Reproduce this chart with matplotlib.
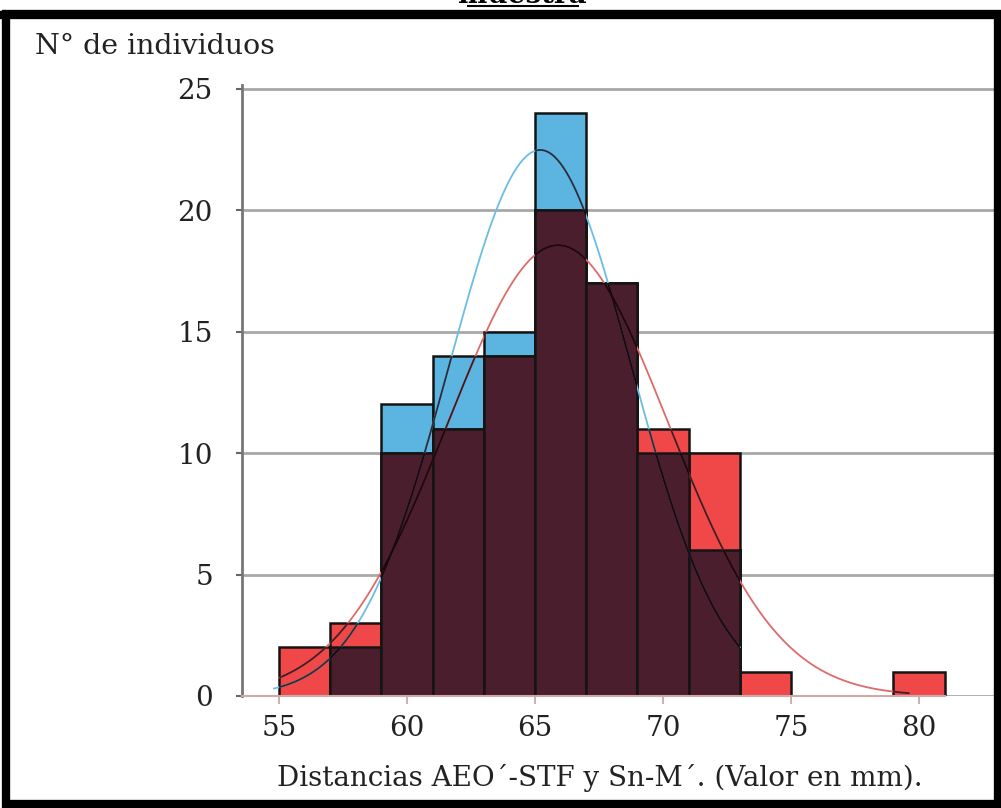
import numpy as np
import matplotlib.pyplot as plt
from matplotlib.patches import Rectangle
from matplotlib.lines import Line2D

plt.rcParams['font.family'] = ['DejaVu Serif']

# histogram bins (left edges, width 2 mm) and counts for the two groups
bin_left = [55, 57, 59, 61, 63, 65, 67, 69, 71, 73, 79]
blue_counts = [0, 2, 12, 14, 15, 24, 17, 10, 6, 0, 0]
red_counts = [2, 3, 10, 11, 14, 20, 17, 11, 10, 1, 1]
bin_width = 2
n_total = 100

# fitted normal curves (mean, sd, range drawn)
blue_mean, blue_sd = 65.2, 3.55
red_mean, red_sd = 65.9, 4.3
blue_range = (54.8, 73.0)
red_range = (55.0, 79.6)

xticks = [55, 60, 65, 70, 75, 80]
yticks = [0, 5, 10, 15, 20, 25]

c_blue = '#5bb5e0'
c_red = '#f04848'
c_both = '#4b1e2d'

fig = plt.figure(figsize=(10.01, 8.08), dpi=100)
ax = fig.add_axes([242 / 1001, 112 / 808, 755 / 1001, 611 / 808])

ax.set_xlim(53.55, 83.05)
ax.set_ylim(0, 25.15)

ax.yaxis.grid(True, color='#a8a8a8', linewidth=2)
ax.set_axisbelow(True)

overlap = np.minimum(blue_counts, red_counts)
patches = []
for counts, col in [(blue_counts, c_blue), (red_counts, c_red), (overlap, c_both)]:
    bars = ax.bar(bin_left, counts, width=bin_width, align='edge', color=col,
                  edgecolor='#141414', linewidth=1.8, zorder=2)
    patches += [b for b in bars if b.get_height() > 0]


def normal_curve(mean, sd, lo, hi):
    x = np.linspace(lo, hi, 300)
    y = n_total * bin_width / (sd * np.sqrt(2 * np.pi)) * np.exp(-0.5 * ((x - mean) / sd) ** 2)
    return x, y


for (m, s, r, col) in [(blue_mean, blue_sd, blue_range, '#6cbde3'),
                       (red_mean, red_sd, red_range, '#e06a6a')]:
    x, y = normal_curve(m, s, *r)
    ax.plot(x, y, color=col, linewidth=1.3, zorder=3)
    # the curve looks dark where it crosses the bars
    for p in patches:
        ln, = ax.plot(x, y, color='#1c0810', linewidth=1.3, alpha=0.8, zorder=4)
        ln.set_clip_path(p)

ax.set_xticks(xticks)
ax.set_yticks(yticks)
ax.tick_params(axis='both', labelsize=20, colors='#333333', labelcolor='#222222')
ax.tick_params(axis='x', length=6, width=1.2, pad=8, colors='#c8a0a0', labelcolor='#222222')
ax.tick_params(axis='y', length=4, width=1.5, pad=17, colors='#666666', labelcolor='#222222')

for side in ['top', 'right']:
    ax.spines[side].set_visible(False)
ax.spines['left'].set_color('#777777')
ax.spines['left'].set_linewidth(2)
ax.spines['bottom'].set_color('#d0a8a8')
ax.spines['bottom'].set_linewidth(1.5)
ax.spines['bottom'].set_bounds(53.55, 81.0)

fig.text(35 / 1001, 1 - 47 / 808, 'N° de individuos', fontsize=20.5,
         ha='left', va='center', color='#222222')
fig.text(600 / 1001, 30 / 808, 'Distancias AEO´-STF y Sn-M´. (Valor en mm).',
         fontsize=20, ha='center', va='center', color='#222222')

# clipped caption above the frame
fig.text(522 / 1001, 1 - 3 / 808, 'muestra', fontsize=20, fontweight='bold',
         ha='center', va='baseline', color='black')
fig.add_artist(Line2D([468 / 1001, 578 / 1001], [1 - 6 / 808, 1 - 6 / 808],
                      transform=fig.transFigure, color='black', linewidth=1.5))

# black frame round the chart
fig.add_artist(Rectangle((6 / 1001, 4 / 808), 992 / 1001, 790 / 808,
                         transform=fig.transFigure, fill=False,
                         edgecolor='black', linewidth=6))
fig.add_artist(Line2D([0, 1], [1 - 15 / 808, 1 - 15 / 808],
                      transform=fig.transFigure, color='black', linewidth=6))

fig.savefig('out.png', dpi=100)
